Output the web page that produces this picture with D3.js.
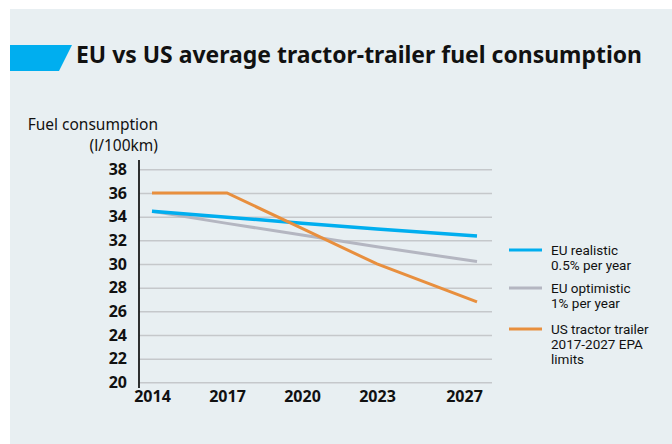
<!DOCTYPE html>
<html>
<head>
<meta charset="utf-8">
<script src="https://cdn.jsdelivr.net/npm/d3@7"></script>
<style>
  body { margin: 0; background: #fff; }
  svg { display: block; font-family: "Noto Sans", sans-serif; }
</style>
</head>
<body>
<svg width="672" height="444"></svg>
<script>
// chart data
const years = [2014, 2017, 2020, 2023, 2027];
const yTicks = [20, 22, 24, 26, 28, 30, 32, 34, 36, 38];
const euRealistic = [34.45, 33.95, 33.45, 32.95, 32.37];
const euOptimistic = [34.45, 33.43, 32.45, 31.45, 30.2];
const usEpa = [36.0, 36.0, 33.0, 30.0, 26.8];
const seriesNames = [
  ['EU realistic', '0.5% per year'],
  ['EU optimistic', '1% per year'],
  ['US tractor trailer', '2017-2027 EPA', 'limits']
];
const seriesColors = ['#00aeef', '#b4b6c1', '#e88f3e'];

const svg = d3.select('svg');
const width = +svg.attr('width');
const height = +svg.attr('height');

// background panel
svg.append('rect')
  .attr('x', 10).attr('y', 9)
  .attr('width', width - 10).attr('height', height - 9)
  .attr('fill', '#e8eff2');

// title with blue flag
svg.append('path')
  .attr('d', 'M10,45 L72,45 L59,71 L10,71 Z')
  .attr('fill', '#00aeef');
svg.append('text')
  .attr('x', 76).attr('y', 62.5)
  .attr('textLength', 566).attr('lengthAdjust', 'spacingAndGlyphs')
  .style('font-size', '23px').style('font-weight', 700)
  .attr('fill', '#111')
  .text('EU vs US average tractor-trailer fuel consumption');

// y axis title
svg.append('text')
  .attr('text-anchor', 'end')
  .style('font-size', '15.5px').attr('fill', '#111')
  .selectAll('tspan')
  .data(['Fuel consumption', '(l/100km)'])
  .join('tspan')
    .attr('x', 158)
    .attr('y', (d, i) => 130 + i * 21)
    .text(d => d);

// scales
const xScale = d3.scaleLinear().domain([2014, 2027]).range([152, 477]);
const yScale = d3.scaleLinear().domain([20, 38]).range([382.3, 169.3]);
const axisX = 139, gridEnd = 492;

// gridlines + y labels
const yAxis = svg.append('g')
  .attr('transform', `translate(${axisX},0)`)
  .call(d3.axisLeft(yScale).tickValues(yTicks).tickSize(-(gridEnd - axisX)).tickPadding(12));
yAxis.select('.domain').remove();
yAxis.selectAll('.tick line').attr('stroke', '#c5c8cb').attr('stroke-width', 1.5);
yAxis.selectAll('.tick text')
  .attr('fill', '#111')
  .style('font-family', '"Noto Sans", sans-serif')
  .style('font-size', '16px').style('font-weight', 700);

// vertical axis line
svg.append('line')
  .attr('x1', axisX).attr('x2', axisX)
  .attr('y1', 160).attr('y2', 388)
  .attr('stroke', '#1a1a1a').attr('stroke-width', 1.8);

// x labels
const xAxis = svg.append('g')
  .attr('transform', 'translate(0,388)')
  .call(d3.axisBottom(xScale).tickValues(years).tickFormat(d3.format('d')).tickSize(0).tickPadding(3));
xAxis.select('.domain').remove();
xAxis.selectAll('.tick text')
  .attr('fill', '#111')
  .attr('dx', d => d === 2027 ? -13 : 0)
  .style('font-family', '"Noto Sans", sans-serif')
  .style('font-size', '16px').style('font-weight', 700);

// lines
const line = d3.line()
  .x((d, i) => xScale(years[i]))
  .y(d => yScale(d));

[euOptimistic, euRealistic, usEpa].forEach(values => {
  const idx = values === euRealistic ? 0 : values === euOptimistic ? 1 : 2;
  svg.append('path')
    .datum(values)
    .attr('d', line)
    .attr('fill', 'none')
    .attr('stroke', seriesColors[idx])
    .attr('stroke-width', idx === 0 ? 3.5 : 3);
});

// legend
const legendY = [250, 288, 329];
const legend = svg.append('g');
seriesNames.forEach((lines, i) => {
  const g = legend.append('g').attr('transform', `translate(509,${legendY[i]})`);
  g.append('line')
    .attr('x1', 0).attr('x2', 33)
    .attr('stroke', seriesColors[i]).attr('stroke-width', 3);
  g.append('text')
    .style('font-family', 'Roboto, sans-serif')
    .style('font-size', '13.5px').attr('fill', '#111')
    .selectAll('tspan')
    .data(lines)
    .join('tspan')
      .attr('x', 42)
      .attr('y', (d, j) => 5 + j * 15)
      .text(d => d);
});
</script>
</body>
</html>
